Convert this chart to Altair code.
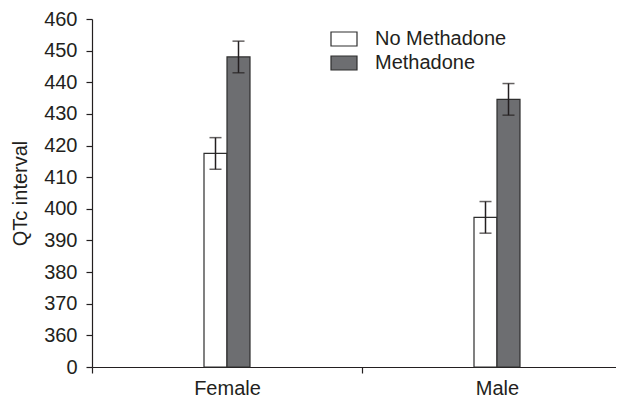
import altair as alt
import pandas as pd

sex = ["Female", "Female", "Male", "Male"]
group = ["No Methadone", "Methadone", "No Methadone", "Methadone"]
qtc = [417.5, 448.0, 397.3, 434.6]
err = [5.0, 5.0, 5.0, 5.0]
y_ticks = [350, 360, 370, 380, 390, 400, 410, 420, 430, 440, 450, 460]

df = pd.DataFrame({"sex": sex, "group": group, "qtc": qtc, "err": err})
df["lo"] = df["qtc"] - df["err"]
df["hi"] = df["qtc"] + df["err"]
df["base"] = 350

FONT = "Liberation Sans"
DARK = "#231f20"
FS = 20

xaxis = alt.Axis(labelAngle=0, tickBand="extent", labelFontSize=FS, labelFont=FONT,
                 labelColor=DARK, domainColor=DARK, tickColor=DARK, tickSize=6,
                 labelPadding=5, domainWidth=1.2, tickWidth=1.2)
x = alt.X("sex:N", sort=["Female", "Male"], title=None,
          scale=alt.Scale(domain=["Female", "Male"], range=[0, 540], paddingInner=0, paddingOuter=0),
          axis=xaxis)
xoff = alt.XOffset("group:N", sort=["No Methadone", "Methadone"],
                   scale=alt.Scale(domain=["No Methadone", "Methadone"], range=[112, 158],
                                   paddingInner=0, paddingOuter=0))
yscale = alt.Scale(domain=[350, 460], zero=False, nice=False)
yaxis = alt.Axis(values=y_ticks, labelExpr="datum.value == 350 ? '0' : datum.value",
                 labelOverlap=False, labelSeparation=0, labelBound=False, labelFlush=False,
                 grid=False, labelFontSize=FS, labelFont=FONT,
                 labelColor=DARK, titleFontSize=FS, titleFont=FONT, titleColor=DARK,
                 titleFontWeight="normal", titlePadding=13, domainColor=DARK,
                 tickColor=DARK, tickSize=6, labelPadding=9, domainWidth=1.2,
                 tickWidth=1.2)

base = alt.Chart(df)

bars = base.mark_bar(stroke="#2e2e2e", strokeWidth=1.2).encode(
    x=x, xOffset=xoff,
    y=alt.Y("qtc:Q", scale=yscale, title="QTc interval", axis=yaxis),
    y2="base:Q",
    color=alt.Color("group:N", sort=["No Methadone", "Methadone"],
                    scale=alt.Scale(domain=["No Methadone", "Methadone"], range=["#ffffff", "#6d6e71"]),
                    legend=alt.Legend(title=None, orient="none", legendX=238, legendY=6,
                                      symbolType="M-1,-0.54H1V0.54H-1Z", symbolSize=676,
                                      symbolStrokeColor="#2e2e2e", symbolStrokeWidth=1.2,
                                      labelFontSize=FS, labelFont=FONT, labelColor=DARK,
                                      labelOffset=17, rowPadding=-4, padding=0)),
)

rules = base.mark_rule(color=DARK, strokeWidth=1.5).encode(
    x=x, xOffset=xoff, y=alt.Y("lo:Q", scale=yscale, title="QTc interval", axis=yaxis), y2="hi:Q")

caps_lo = base.mark_tick(color=DARK, thickness=1.5, size=12).encode(
    x=x, xOffset=xoff, y=alt.Y("lo:Q", scale=yscale, title="QTc interval", axis=yaxis))
caps_hi = base.mark_tick(color=DARK, thickness=1.5, size=12).encode(
    x=x, xOffset=xoff, y=alt.Y("hi:Q", scale=yscale, title="QTc interval", axis=yaxis))

chart = alt.layer(bars, rules, caps_lo, caps_hi).properties(
    width=524, height=348,
    autosize=alt.AutoSizeParams(type="none"),
    padding={"left": 84, "top": 11, "right": 0, "bottom": 31},
).configure(background="white").configure_view(stroke="transparent", strokeWidth=0).configure_axis(labelOverlap=False)

chart.save("out.html", embed_options={"renderer": "svg", "actions": False})
